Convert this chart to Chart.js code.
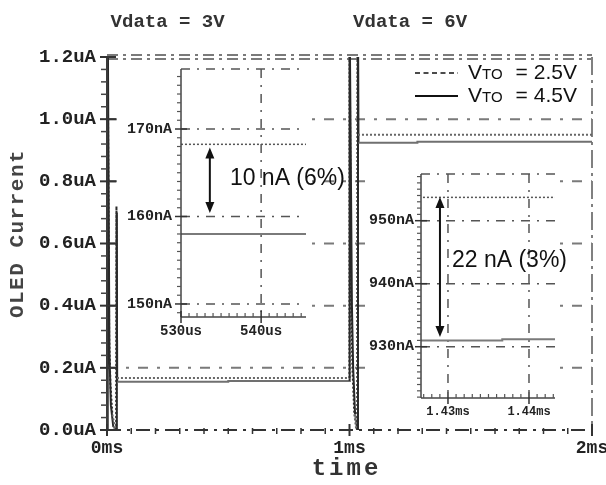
<!DOCTYPE html>
<html><head><meta charset="utf-8">
<script src="https://cdn.jsdelivr.net/npm/chart.js@4/dist/chart.umd.min.js"></script>
<style>
html,body{margin:0;padding:0;background:#fff;}
#wrap{position:relative;width:606px;height:485px;overflow:hidden;background:#fff;}
canvas{position:absolute;}
</style></head><body>
<div id="wrap">
<canvas id="main" width="606" height="485" style="left:0;top:0"></canvas>
<canvas id="in1" width="240" height="285" style="left:118px;top:60px"></canvas>
<canvas id="in2" width="208" height="260" style="left:362px;top:163px"></canvas>
</div>
<script>
// ===== DATA =====
const phaseTitles = ['Vdata = 3V', 'Vdata = 6V'];
const seriesLabels = ['VTO = 2.5V', 'VTO = 4.5V'];
const axisTitles = { x: 'time', y: 'OLED Current' };

// main plot: time (ms), OLED current (uA)
const mainXTicks = [0, 1, 2];
const mainXTickLabels = ['0ms', '1ms', '2ms'];
const mainYTicks = [0, 0.2, 0.4, 0.6, 0.8, 1.0, 1.2];
const mainYTickLabels = ['0.0uA', '0.2uA', '0.4uA', '0.6uA', '0.8uA', '1.0uA', '1.2uA'];

// VTO = 2.5V (dotted)
const tA = [0, 0.002, 0.009, 0.014, 0.022, 0.036, 0.038, 0.039, 0.041, 1.0, 1.0003, 1.006, 1.012, 1.020, 1.028, 1.032, 1.033, 1.035, 2.0];
const iA = [0, 1.35, 0.30, 0.15, 0.05, 0.0, 0.0, 0.72, 0.167, 0.167, 1.35, 0.45, 0.20, 0.05, 0.0, 0.0, 1.35, 0.950, 0.950];
// VTO = 4.5V (solid)
const tB = [0, 0.003, 0.010, 0.016, 0.026, 0.040, 0.0405, 0.042, 0.5, 0.5, 1.0, 1.0005, 1.010, 1.015, 1.023, 1.031, 1.034, 1.035, 1.037, 1.28, 1.28, 2.0];
const iB = [0, 1.35, 0.25, 0.08, 0.01, 0.0, 0.70, 0.155, 0.155, 0.158, 0.158, 1.35, 0.40, 0.20, 0.05, 0.0, 0.0, 1.35, 0.924, 0.924, 0.927, 0.927];

// inset 1: time (us), current (nA)
const in1XTicks = [530, 540];
const in1XTickLabels = ['530us', '540us'];
const in1YTicks = [150, 160, 170];
const in1YTickLabels = ['150nA', '160nA', '170nA'];
const in1T = [528, 548];
const in1A = [168.25, 168.25];
const in1B = [158.0, 158.0];
const in1Note = { text: '10 nA (6%)', arrowX: 533.6, arrowTop: 167.9, arrowBottom: 160.4, textX: 536.1, textY: 163.6 };

// inset 2: time (ms), current (nA)
const in2XTicks = [1.43, 1.44];
const in2XTickLabels = ['1.43ms', '1.44ms'];
const in2YTicks = [930, 940, 950];
const in2YTickLabels = ['930nA', '940nA', '950nA'];
const in2TA = [1.42, 1.45];
const in2A = [953.7, 953.7];
const in2TB = [1.42, 1.4367, 1.4367, 1.45];
const in2B = [931.0, 931.0, 931.2, 931.2];
const in2Note = { text: '22 nA (3%)', arrowX: 1.42901, arrowTop: 953.76, arrowBottom: 931.54, textX: 1.43049, textY: 942.7 };

// ===== HELPERS =====
const MONO = "'Liberation Mono','DejaVu Sans Mono',monospace";
const SANS = "'Liberation Sans',Arial,sans-serif";
const pts = (xs, ys) => xs.map((x, i) => ({ x, y: ys[i] }));

function seg(ctx, x1, y1, x2, y2, dash, color, width) {
  ctx.save();
  ctx.beginPath();
  ctx.setLineDash(dash || []);
  ctx.strokeStyle = color; ctx.lineWidth = width;
  ctx.moveTo(x1, y1); ctx.lineTo(x2, y2); ctx.stroke();
  ctx.restore();
}
function arrow(ctx, x, yTop, yBot) {
  seg(ctx, x, yTop + 6, x, yBot - 6, [], '#111', 2);
  ctx.save(); ctx.fillStyle = '#111';
  ctx.beginPath(); ctx.moveTo(x, yTop); ctx.lineTo(x - 4.5, yTop + 11); ctx.lineTo(x + 4.5, yTop + 11); ctx.closePath(); ctx.fill();
  ctx.beginPath(); ctx.moveTo(x, yBot); ctx.lineTo(x - 4.5, yBot - 11); ctx.lineTo(x + 4.5, yBot - 11); ctx.closePath(); ctx.fill();
  ctx.restore();
}
function eachStep(min, max, step, fn) {
  const n0 = Math.ceil(min / step - 1e-9), n1 = Math.floor(max / step + 1e-9);
  for (let n = n0; n <= n1; n++) fn(+(n * step).toFixed(6), n);
}
const isMajor = (v, majors) => majors.some(m => Math.abs(m - v) < 1e-6);

// letter-spaced axis titles
const titleSpacing = { x: '3px', y: '1.5px' };
const titleShift = { x: [-3, 0], y: [0, -10] };
const spacedTitles = {
  id: 'spacedTitles',
  afterLayout(chart) {
    for (const s of Object.values(chart.scales)) {
      if (s._spPatched) continue;
      const orig = s.drawTitle;
      s.drawTitle = function (...args) {
        const c = this.ctx; c.save();
        c.letterSpacing = titleSpacing[this.id] || '0px';
        const sh = titleShift[this.id] || [0, 0];
        c.translate(sh[0], sh[1]);
        orig.apply(this, args);
        c.restore();
      };
      s._spPatched = true;
    }
  }
};

// ===== MAIN CHART DECORATION =====
const GRID_DD = [10, 9, 3, 9];
const mainDeco = {
  id: 'mainDeco',
  beforeDatasetsDraw(chart) {
    const { ctx, chartArea: a, scales: { x, y } } = chart;
    mainYTicks.forEach(v => {
      if (v === 0 || v === y.max) return;
      const py = y.getPixelForValue(v);
      seg(ctx, a.left, py, a.right, py, GRID_DD, '#7a7a7a', 2);
    });
    const yt = y.getPixelForValue(y.max);
    seg(ctx, a.left, yt - 2, a.right, yt - 2, [11, 5, 3, 5], '#7a7a7a', 1.8);
    seg(ctx, a.left, yt + 2, a.right, yt + 2, [11, 5, 3, 5], '#7a7a7a', 1.8);
    const xr = x.getPixelForValue(x.max);
    seg(ctx, xr, a.top, xr, a.bottom, [18, 5, 3, 5], '#808080', 2);
  },
  afterDatasetsDraw(chart) {
    const { ctx, chartArea: a, scales: { x, y } } = chart;
    const yb = y.getPixelForValue(0);
    seg(ctx, a.left, yb, a.right, yb, [14, 6, 3, 6], '#333', 2);
    const xl = x.getPixelForValue(0);
    seg(ctx, xl, a.top, xl, a.bottom, [], '#3a3a3a', 2);
    eachStep(0, y.max, 0.04, v => {
      const py = y.getPixelForValue(v);
      if (isMajor(v, mainYTicks)) seg(ctx, xl - 7, py, xl + 9, py, [], '#333', 2);
      else seg(ctx, xl - 6, py, xl, py, [], '#444', 1.5);
    });
    eachStep(0, x.max, 0.1, v => {
      const px = x.getPixelForValue(v);
      if (isMajor(v, mainXTicks)) seg(ctx, px, yb - 6, px, yb + 6, [], '#333', 2);
      else seg(ctx, px, yb - 2, px, yb + 4, [], '#333', 1.5);
    });
  },
  afterDraw(chart) {
    const { ctx, scales: { x } } = chart;
    // phase titles
    ctx.save();
    ctx.font = "bold 19px " + MONO;
    ctx.fillStyle = '#333';
    ctx.textAlign = 'center'; ctx.textBaseline = 'middle';
    ctx.fillText(phaseTitles[0], x.getPixelForValue(0.25), 22);
    ctx.fillText(phaseTitles[1], x.getPixelForValue(1.25), 22);
    ctx.restore();
    // legend
    const rows = [{ ds: 0, y: 73, base: 78.5 }, { ds: 1, y: 96, base: 101.7 }];
    rows.forEach(r => {
      const ds = chart.data.datasets[r.ds];
      seg(ctx, 415, r.y, 458, r.y, r.ds === 0 ? [5, 3.5] : [], '#111', r.ds === 0 ? 1.5 : 2);
      const m = ds.label.match(/^V(TO)\s*(=)\s*(.*)$/);
      ctx.save();
      ctx.fillStyle = '#111'; ctx.textBaseline = 'alphabetic'; ctx.textAlign = 'left';
      let cx = 468;
      ctx.font = "21px " + SANS; ctx.fillText('V', cx, r.base); cx += ctx.measureText('V').width;
      ctx.font = "15px " + SANS; ctx.fillText(m[1], cx, r.base); cx += ctx.measureText(m[1]).width + 13;
      ctx.font = "21px " + SANS; ctx.fillText(m[2], cx, r.base); cx += ctx.measureText(m[2]).width + 6;
      ctx.fillText(m[3], cx, r.base);
      ctx.restore();
    });
  }
};

const steepColor = (dark, light) => c => Math.abs(c.p1.parsed.y - c.p0.parsed.y) > 0.05 ? dark : light;

new Chart(document.getElementById('main'), {
  type: 'line',
  data: {
    datasets: [
      { label: seriesLabels[0], data: pts(tA, iA), borderColor: '#666', borderWidth: 2, borderDash: [2, 2],
        pointRadius: 0, tension: 0, segment: { borderColor: steepColor('#2a2a2a', '#666') } },
      { label: seriesLabels[1], data: pts(tB, iB), borderColor: '#707070', borderWidth: 2,
        pointRadius: 0, tension: 0, segment: { borderColor: steepColor('#2a2a2a', '#707070') } }
    ]
  },
  options: {
    responsive: false, animation: false, devicePixelRatio: 1,
    layout: { padding: { top: 57, right: 14, left: 0, bottom: 0 } },
    plugins: { legend: { display: false }, tooltip: { enabled: false }, title: { display: false } },
    scales: {
      x: {
        type: 'linear', min: 0, max: 2,
        grid: { display: false, drawTicks: false }, border: { display: false },
        afterBuildTicks: s => { s.ticks = mainXTicks.map(v => ({ value: v })); },
        ticks: { autoSkip: false, maxRotation: 0, padding: 8, color: '#222',
          font: { family: MONO, size: 18, weight: 'bold' }, callback: (v, i) => mainXTickLabels[i] },
        title: { display: true, text: axisTitles.x, color: '#333', font: { family: MONO, size: 24, weight: 'bold' }, padding: { top: 0, bottom: 2 } },
        afterFit: s => { s.height = 55; s.paddingLeft = 0; s.paddingRight = 0; }
      },
      y: {
        type: 'linear', min: 0, max: 1.2,
        grid: { display: false, drawTicks: false }, border: { display: false },
        afterBuildTicks: s => { s.ticks = mainYTicks.map(v => ({ value: v })); },
        ticks: { autoSkip: false, padding: 11, color: '#222',
          font: { family: MONO, size: 19, weight: 'bold' }, callback: (v, i) => mainYTickLabels[i] },
        title: { display: true, text: axisTitles.y, color: '#444', font: { family: MONO, size: 21, weight: 'bold' }, padding: { top: 5, bottom: 0 } },
        afterFit: s => { s.width = 107; s.paddingTop = 0; s.paddingBottom = 0; }
      }
    }
  },
  plugins: [mainDeco, spacedTitles]
});

// ===== INSETS =====
const IN_DD = [9, 7, 2, 7];
function insetPlugin(o) {
  return {
    id: 'insetDeco',
    beforeDraw(chart) {
      const { ctx, chartArea: a } = chart;
      ctx.save(); ctx.fillStyle = '#fff';
      ctx.fillRect(a.left - o.padL, a.top - o.padT, o.padL + (a.right - a.left) + o.padR, o.padT + (a.bottom - a.top) + o.padB);
      ctx.restore();
    },
    beforeDatasetsDraw(chart) {
      const { ctx, chartArea: a, scales: { x, y } } = chart;
      o.yTicks.forEach(v => { const py = y.getPixelForValue(v); seg(ctx, a.left, py, a.right, py, IN_DD, '#555', 1.5); });
      seg(ctx, a.left, a.top, a.right, a.top, IN_DD, '#555', 1.5);
      o.xTicks.forEach(v => { const px = x.getPixelForValue(v); if (px > a.left + 2) seg(ctx, px, a.top, px, a.bottom, IN_DD, '#555', 1.5); });
    },
    afterDatasetsDraw(chart) {
      const { ctx, chartArea: a, scales: { x, y } } = chart;
      seg(ctx, a.left, a.top, a.left, a.bottom, [], '#444', 1.5);
      seg(ctx, a.left, a.bottom, a.right, a.bottom, [], '#444', 1.5);
      eachStep(y.min, y.max, o.yMinor, v => {
        const py = y.getPixelForValue(v);
        if (isMajor(v, o.yTicks)) seg(ctx, a.left - 6, py, a.left + 6, py, [], '#333', 1.5);
        else seg(ctx, a.left - 4, py, a.left, py, [], '#555', 1.2);
      });
      eachStep(x.min, x.max, o.xMinor, v => {
        const px = x.getPixelForValue(v);
        if (isMajor(v, o.xTicks)) seg(ctx, px, a.bottom - 6, px, a.bottom + 6, [], '#333', 1.5);
        else seg(ctx, px, a.bottom - 4, px, a.bottom, [], '#555', 1.2);
      });
      const n = o.note;
      arrow(ctx, x.getPixelForValue(n.arrowX), y.getPixelForValue(n.arrowTop), y.getPixelForValue(n.arrowBottom));
      ctx.save();
      ctx.font = "23px " + SANS; ctx.fillStyle = '#111'; ctx.textBaseline = 'alphabetic'; ctx.textAlign = 'left';
      ctx.fillText(n.text, x.getPixelForValue(n.textX), y.getPixelForValue(n.textY));
      ctx.restore();
    }
  };
}

function makeInset(id, cfg) {
  new Chart(document.getElementById(id), {
    type: 'line',
    data: {
      datasets: [
        { label: seriesLabels[0], data: cfg.dataA, borderColor: '#555', borderWidth: 1.5, borderDash: [2, 2], pointRadius: 0, tension: 0 },
        { label: seriesLabels[1], data: cfg.dataB, borderColor: '#7a7a7a', borderWidth: 2, pointRadius: 0, tension: 0 }
      ]
    },
    options: {
      responsive: false, animation: false, devicePixelRatio: 1,
      layout: { padding: { top: cfg.padTop, right: cfg.padRight, left: 0, bottom: 0 } },
      plugins: { legend: { display: false }, tooltip: { enabled: false } },
      scales: {
        x: {
          type: 'linear', min: cfg.xMin, max: cfg.xMax,
          grid: { display: false, drawTicks: false }, border: { display: false },
          afterBuildTicks: s => { s.ticks = cfg.xTicks.map(v => ({ value: v })); },
          ticks: { autoSkip: false, maxRotation: 0, padding: cfg.xPad, color: '#222',
            font: { family: MONO, size: cfg.xFont, weight: 'bold' }, callback: (v, i) => cfg.xLabels[i] },
          afterFit: s => { s.height = cfg.xH; s.paddingLeft = 0; s.paddingRight = 0; }
        },
        y: {
          type: 'linear', min: cfg.yMin, max: cfg.yMax,
          grid: { display: false, drawTicks: false }, border: { display: false },
          afterBuildTicks: s => { s.ticks = cfg.yTicks.map(v => ({ value: v })); },
          ticks: { autoSkip: false, padding: cfg.yPad, color: '#222',
            font: { family: MONO, size: 15, weight: 'bold' }, callback: (v, i) => cfg.yLabels[i] },
          afterFit: s => { s.width = cfg.yW; s.paddingTop = 0; s.paddingBottom = 0; }
        }
      }
    },
    plugins: [insetPlugin(cfg.deco)]
  });
}

makeInset('in1', {
  dataA: pts(in1T, in1A), dataB: pts(in1T, in1B),
  xMin: 530, xMax: 545.6, yMin: 148.51, yMax: 176.86,
  xTicks: in1XTicks, xLabels: in1XTickLabels, yTicks: in1YTicks, yLabels: in1YTickLabels,
  padTop: 9, padRight: 52, xH: 28, yW: 63, xPad: 6, yPad: 9, xFont: 14,
  deco: { padL: 63, padT: 7, padR: 1, padB: 23, xTicks: in1XTicks, yTicks: in1YTicks, xMinor: 1, yMinor: 1, note: in1Note }
});
makeInset('in2', {
  dataA: pts(in2TA, in2A), dataB: pts(in2TB, in2B),
  xMin: 1.42667, xMax: 1.44321, yMin: 921.86, yMax: 957.41,
  xTicks: in2XTicks, xLabels: in2XTickLabels, yTicks: in2YTicks, yLabels: in2YTickLabels,
  padTop: 11, padRight: 15, xH: 25, yW: 59, xPad: 7, yPad: 7, xFont: 12,
  deco: { padL: 55, padT: 9, padR: 1, padB: 22, xTicks: in2XTicks, yTicks: in2YTicks, xMinor: 0.001, yMinor: 1, note: in2Note }
});
</script>
</body></html>
